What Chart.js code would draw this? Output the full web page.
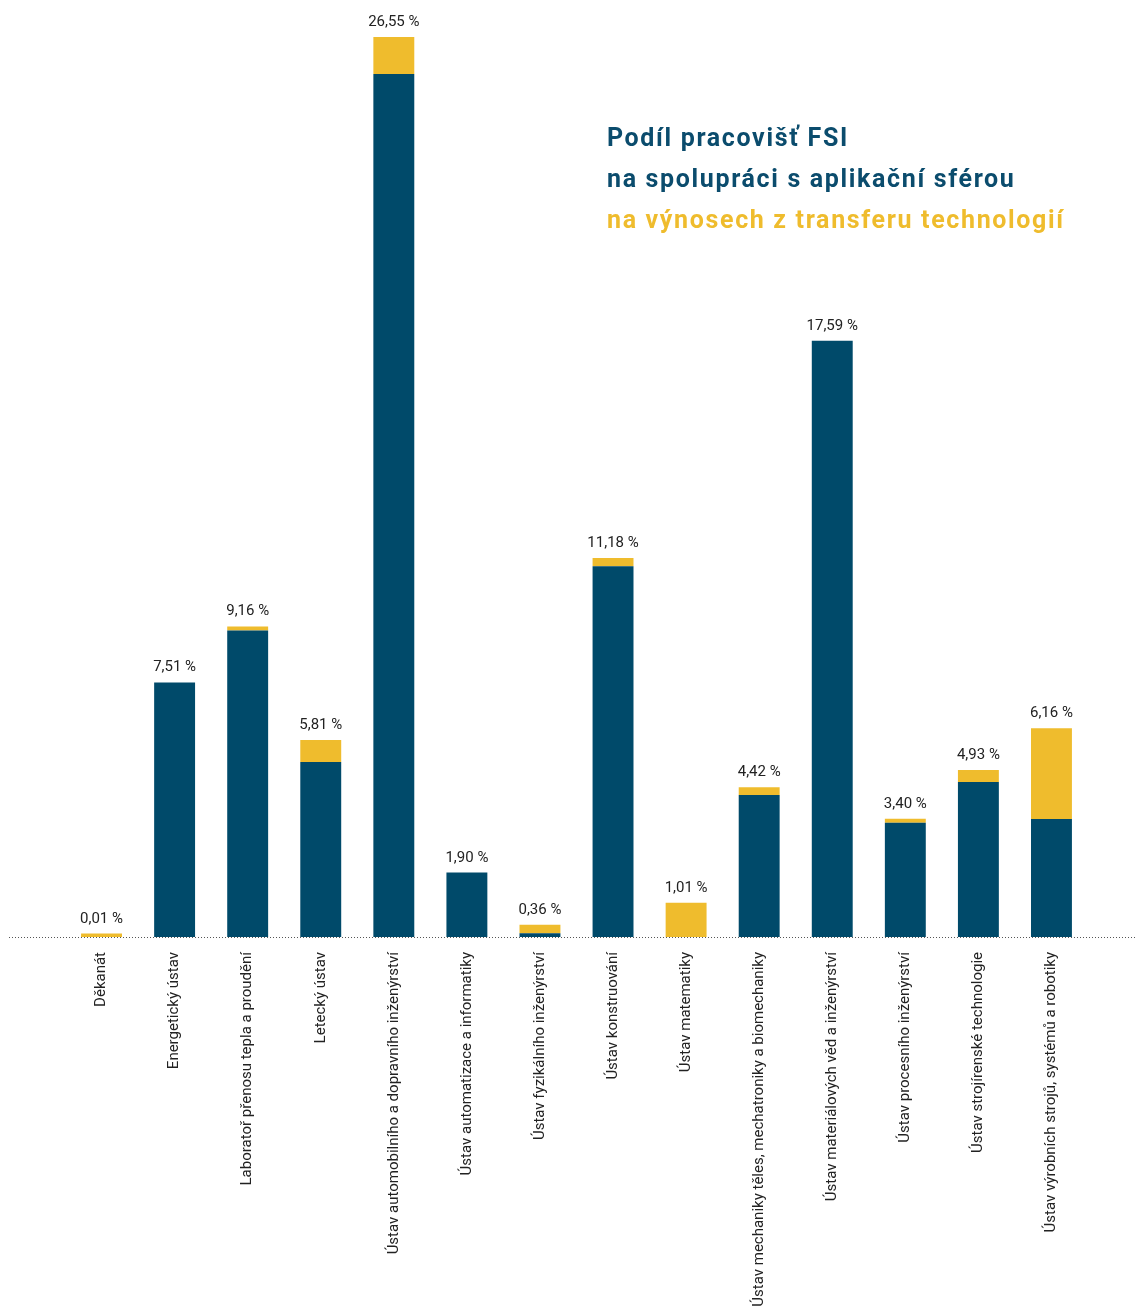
<!DOCTYPE html>
<html>
<head>
<meta charset="utf-8">
<script src="https://cdn.jsdelivr.net/npm/chart.js@4/dist/chart.umd.min.js"></script>
<style>
  body { margin: 0; background: #fff; }
  #wrap { position: relative; width: 1137px; height: 1312px; }
  #title {
    position: absolute; left: 607px; top: 117px;
    font-family: Roboto, sans-serif; font-weight: bold; font-size: 25px;
    line-height: 41px; color: #0b4c6d; letter-spacing: 1.65px;
  }
  #title .y { color: #efbc2d; }
</style>
</head>
<body>
<div id="wrap">
  <canvas id="chart"></canvas>
  <div id="title">Podíl pracovišť FSI<br>na spolupráci s aplikační sférou<br><span class="y">na výnosech z transferu technologií</span></div>
</div>
<script>
const categories = [
  'Děkanát',
  'Energetický ústav',
  'Laboratoř přenosu tepla a proudění',
  'Letecký ústav',
  'Ústav automobilního a dopravního inženýrství',
  'Ústav automatizace a informatiky',
  'Ústav fyzikálního inženýrství',
  'Ústav konstruování',
  'Ústav matematiky',
  'Ústav mechaniky těles, mechatroniky a biomechaniky',
  'Ústav materiálových věd a inženýrství',
  'Ústav procesního inženýrství',
  'Ústav strojírenské technologie',
  'Ústav výrobních strojů, systémů a robotiky'
];
// share on cooperation with the application sphere (blue)
const cooperation = [0, 7.51, 9.04, 5.16, 25.46, 1.90, 0.11, 10.94, 0, 4.19, 17.59, 3.37, 4.57, 3.48];
// share on technology transfer revenues (yellow)
const transfer = [0.1, 0, 0.12, 0.65, 1.09, 0, 0.25, 0.24, 1.01, 0.23, 0, 0.12, 0.36, 2.68];
const totalLabels = ['0,01 %', '7,51 %', '9,16 %', '5,81 %', '26,55 %', '1,90 %', '0,36 %',
  '11,18 %', '1,01 %', '4,42 %', '17,59 %', '3,40 %', '4,93 %', '6,16 %'];

const BLUE = '#004a6a';
const YELLOW = '#efbc2d';

const totalsPlugin = {
  id: 'totals',
  afterDatasetsDraw(chart) {
    const ctx = chart.ctx;
    const y = chart.scales.y;
    const metaTop = chart.getDatasetMeta(1);
    ctx.save();
    ctx.font = '15px Roboto, sans-serif';
    ctx.fillStyle = '#222';
    ctx.textAlign = 'center';
    ctx.textBaseline = 'alphabetic';
    metaTop.data.forEach((bar, i) => {
      const top = y.getPixelForValue(cooperation[i] + transfer[i]);
      ctx.fillText(totalLabels[i], bar.x, top - 11);
    });
    ctx.restore();
  }
};

const baselinePlugin = {
  id: 'baseline',
  afterDatasetsDraw(chart) {
    const ctx = chart.ctx;
    const y0 = Math.round(chart.scales.y.getPixelForValue(0)) + 0.5;
    ctx.save();
    ctx.strokeStyle = '#555';
    ctx.lineWidth = 1;
    ctx.setLineDash([1, 2]);
    ctx.beginPath();
    ctx.moveTo(9, y0);
    ctx.lineTo(chart.width, y0);
    ctx.stroke();
    ctx.restore();
  }
};

new Chart(document.getElementById('chart'), {
  type: 'bar',
  data: {
    labels: categories,
    datasets: [
      { label: 'na spolupráci s aplikační sférou', data: cooperation, backgroundColor: BLUE },
      { label: 'na výnosech z transferu technologií', data: transfer, backgroundColor: YELLOW }
    ]
  },
  options: {
    responsive: true,
    maintainAspectRatio: false,
    animation: false,
    layout: { padding: { left: 65, right: 49, top: 37, bottom: 0 } },
    datasets: { bar: { categoryPercentage: 1, barPercentage: 0.56 } },
    plugins: { legend: { display: false }, tooltip: { enabled: false } },
    scales: {
      x: {
        stacked: true,
        grid: { display: false },
        border: { display: false },
        ticks: {
          autoSkip: false, maxRotation: 90, minRotation: 90, padding: 7,
          color: '#222', font: { family: 'Roboto, sans-serif', size: 15 }
        },
        afterFit(scale) { scale.height = 375; }
      },
      y: {
        stacked: true, display: false, min: 0, max: 26.55
      }
    }
  },
  plugins: [totalsPlugin, baselinePlugin]
});
</script>
</body>
</html>
